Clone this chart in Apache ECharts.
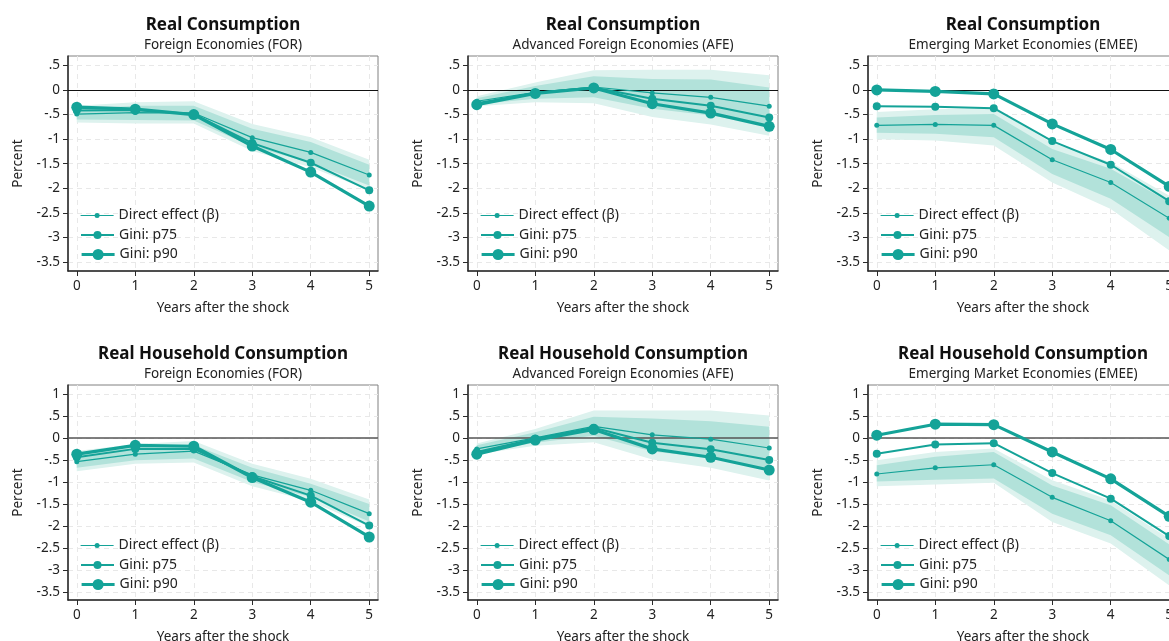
<!DOCTYPE html>
<html><head><meta charset="utf-8">
<script src="https://cdn.jsdelivr.net/npm/echarts@6/dist/echarts.min.js"></script>
<style>html,body{margin:0;padding:0;background:#fff;overflow:hidden}#c{width:1169px;height:641px;}</style>
</head><body><div id="c"></div>
<script>
// ---------- DATA ----------
const years = [0, 1, 2, 3, 4, 5];
const yTicksTop = [-3.5, -3, -2.5, -2, -1.5, -1, -0.5, 0, 0.5];
const yTicksBottom = [-3.5, -3, -2.5, -2, -1.5, -1, -0.5, 0, 0.5, 1];
const seriesNames = ['Direct effect (β)', 'Gini: p75', 'Gini: p90'];
const titles = ['Real Consumption', 'Real Household Consumption'];
const subtitles = ['Foreign Economies (FOR)', 'Advanced Foreign Economies (AFE)', 'Emerging Market Economies (EMEE)'];
const xAxisTitle = 'Years after the shock';
const yAxisTitle = 'Percent';

// Real Consumption – FOR
const rcForDirect = [-0.49, -0.46, -0.47, -0.97, -1.27, -1.73];
const rcForP75    = [-0.42, -0.41, -0.49, -1.08, -1.48, -2.04];
const rcForP90    = [-0.35, -0.39, -0.50, -1.14, -1.67, -2.36];
const rcForHi90   = [-0.32, -0.25, -0.23, -0.69, -0.96, -1.42];
const rcForHi68   = [-0.39, -0.32, -0.32, -0.79, -1.06, -1.52];
const rcForLo68   = [-0.60, -0.61, -0.62, -1.15, -1.48, -1.94];
const rcForLo90   = [-0.66, -0.68, -0.68, -1.24, -1.57, -2.04];
// Real Consumption – AFE
const rcAfeDirect = [-0.23, -0.05, 0.06, -0.06, -0.15, -0.33];
const rcAfeP75    = [-0.27, -0.06, 0.05, -0.18, -0.32, -0.56];
const rcAfeP90    = [-0.30, -0.07, 0.04, -0.28, -0.47, -0.74];
const rcAfeHi90   = [-0.13, 0.15, 0.40, 0.41, 0.41, 0.30];
const rcAfeHi68   = [-0.17, 0.08, 0.28, 0.22, 0.21, 0.05];
const rcAfeLo68   = [-0.29, -0.18, -0.15, -0.38, -0.52, -0.72];
const rcAfeLo90   = [-0.33, -0.25, -0.27, -0.55, -0.70, -0.93];
// Real Consumption – EMEE
const rcEmeDirect = [-0.72, -0.70, -0.72, -1.42, -1.88, -2.61];
const rcEmeP75    = [-0.33, -0.34, -0.37, -1.04, -1.52, -2.26];
const rcEmeP90    = [0.00, -0.03, -0.08, -0.69, -1.21, -1.96];
const rcEmeHi90   = [-0.45, -0.39, -0.37, -1.08, -1.47, -2.15];
const rcEmeHi68   = [-0.56, -0.51, -0.49, -1.20, -1.60, -2.28];
const rcEmeLo68   = [-0.87, -0.89, -0.96, -1.71, -2.21, -2.99];
const rcEmeLo90   = [-1.00, -1.03, -1.13, -1.88, -2.42, -3.26];
// Real Household Consumption – FOR
const rhForDirect = [-0.54, -0.37, -0.30, -0.84, -1.19, -1.72];
const rhForP75    = [-0.44, -0.25, -0.25, -0.87, -1.31, -1.99];
const rhForP90    = [-0.37, -0.17, -0.19, -0.90, -1.46, -2.25];
const rhForHi90   = [-0.30, -0.14, -0.07, -0.59, -0.93, -1.40];
const rhForHi68   = [-0.37, -0.22, -0.16, -0.68, -1.04, -1.50];
const rhForLo68   = [-0.68, -0.51, -0.47, -1.00, -1.34, -1.90];
const rhForLo90   = [-0.76, -0.59, -0.56, -1.10, -1.44, -2.02];
// Real Household Consumption – AFE
const rhAfeDirect = [-0.25, 0.00, 0.26, 0.07, -0.03, -0.23];
const rhAfeP75    = [-0.32, -0.02, 0.23, -0.11, -0.26, -0.50];
const rhAfeP90    = [-0.37, -0.05, 0.19, -0.25, -0.44, -0.73];
const rhAfeHi90   = [-0.13, 0.20, 0.62, 0.62, 0.62, 0.51];
const rhAfeHi68   = [-0.17, 0.13, 0.48, 0.44, 0.38, 0.25];
const rhAfeLo68   = [-0.33, -0.11, 0.05, -0.31, -0.45, -0.71];
const rhAfeLo90   = [-0.37, -0.18, -0.10, -0.49, -0.68, -0.97];
// Real Household Consumption – EMEE
const rhEmeDirect = [-0.82, -0.68, -0.61, -1.35, -1.88, -2.76];
const rhEmeP75    = [-0.36, -0.15, -0.12, -0.80, -1.38, -2.23];
const rhEmeP90    = [0.06, 0.31, 0.30, -0.32, -0.93, -1.78];
const rhEmeHi90   = [-0.51, -0.32, -0.24, -0.96, -1.42, -2.29];
const rhEmeHi68   = [-0.62, -0.43, -0.32, -1.08, -1.53, -2.42];
const rhEmeLo68   = [-0.99, -0.95, -0.92, -1.72, -2.21, -3.12];
const rhEmeLo90   = [-1.10, -1.06, -1.02, -1.91, -2.40, -3.35];

// ---------- BUILD ----------
const panels = [
  {t: titles[0], s: subtitles[0], d: rcForDirect, p75: rcForP75, p90: rcForP90, hi90: rcForHi90, hi68: rcForHi68, lo68: rcForLo68, lo90: rcForLo90},
  {t: titles[0], s: subtitles[1], d: rcAfeDirect, p75: rcAfeP75, p90: rcAfeP90, hi90: rcAfeHi90, hi68: rcAfeHi68, lo68: rcAfeLo68, lo90: rcAfeLo90},
  {t: titles[0], s: subtitles[2], d: rcEmeDirect, p75: rcEmeP75, p90: rcEmeP90, hi90: rcEmeHi90, hi68: rcEmeHi68, lo68: rcEmeLo68, lo90: rcEmeLo90},
  {t: titles[1], s: subtitles[0], d: rhForDirect, p75: rhForP75, p90: rhForP90, hi90: rhForHi90, hi68: rhForHi68, lo68: rhForLo68, lo90: rhForLo90},
  {t: titles[1], s: subtitles[1], d: rhAfeDirect, p75: rhAfeP75, p90: rhAfeP90, hi90: rhAfeHi90, hi68: rhAfeHi68, lo68: rhAfeLo68, lo90: rhAfeLo90},
  {t: titles[1], s: subtitles[2], d: rhEmeDirect, p75: rhEmeP75, p90: rhEmeP90, hi90: rhEmeHi90, hi68: rhEmeHi68, lo68: rhEmeLo68, lo90: rhEmeLo90}
];

const FONT = '"Noto Sans", "DejaVu Sans", sans-serif';
const TEAL = '#14a398';
const BAND_OUT = '#ddf2ee';
const BAND_IN = '#b2e2da';
const colLeft = [68, 468, 868];
const rowTop = [56, 385];
const GW = 310, GH = 215;
const yRange = [[-3.68, 0.69], [-3.68, 1.2]];
const yTickSets = [yTicksTop, yTicksBottom];
const legendRows = [[215.5, 235, 254.5], [545.5, 565, 584.5]];
const lineW = [1.2, 2, 3.2];
const symSize = [5, 8, 11];

function fmtY(v) {
  if (v === 0) return '0';
  const a = Math.abs(v);
  let s = String(a);
  if (a < 1) s = s.replace(/^0/, '');
  return (v < 0 ? '-' : '') + s;
}
const pairs = arr => years.map((x, k) => [x, arr[k]]);

function bandSeries(i, lo, hi, color) {
  return {
    type: 'custom', xAxisIndex: i, yAxisIndex: i, silent: true, animation: false, z: 1,
    data: years.map((x, k) => [x, lo[k], hi[k]]),
    encode: {x: 0, y: [1, 2]},
    renderItem: function (params, api) {
      if (params.dataIndex !== 0) return null;
      const pts = [];
      for (let k = 0; k < years.length; k++) pts.push(api.coord([years[k], hi[k]]));
      for (let k = years.length - 1; k >= 0; k--) pts.push(api.coord([years[k], lo[k]]));
      return {type: 'polygon', shape: {points: pts}, style: {fill: color, stroke: null}, silent: true};
    }
  };
}

const option = {
  animation: false,
  backgroundColor: '#ffffff',
  textStyle: {fontFamily: FONT},
  grid: [], xAxis: [], yAxis: [], series: [], legend: [], graphic: []
};

panels.forEach((p, i) => {
  const col = i % 3, row = Math.floor(i / 3);
  const L = colLeft[col], T = rowTop[row];
  option.grid.push({left: L, top: T, width: GW, height: GH, show: true, borderColor: '#808080', borderWidth: 1,
    backgroundColor: 'transparent', containLabel: false, outerBoundsMode: 'none'});
  option.xAxis.push({
    type: 'value', gridIndex: i, min: -0.15, max: 5.15,
    name: xAxisTitle, nameLocation: 'middle', nameGap: 30,
    nameTextStyle: {fontSize: 13.5, color: '#222', fontFamily: FONT},
    axisLine: {show: true, onZero: false, lineStyle: {color: '#2a2a2a', width: 1.5}},
    axisTick: {show: true, length: 5, inside: false, customValues: years, lineStyle: {color: '#2a2a2a', width: 1}},
    axisLabel: {show: true, customValues: years, margin: 8, fontSize: 13.5, color: '#222', fontFamily: FONT},
    splitLine: {show: true, lineStyle: {color: '#e8e8e8', width: 1, type: [5, 4]}}
  });
  option.yAxis.push({
    type: 'value', gridIndex: i, min: yRange[row][0], max: yRange[row][1],
    name: yAxisTitle, nameLocation: 'middle', nameGap: 43, nameRotate: 90,
    nameTextStyle: {fontSize: 13.5, color: '#222', fontFamily: FONT},
    axisLine: {show: true, onZero: false, lineStyle: {color: '#2a2a2a', width: 1.5}},
    axisTick: {show: true, length: 5, inside: false, customValues: yTickSets[row], lineStyle: {color: '#2a2a2a', width: 1}},
    axisLabel: {show: true, customValues: yTickSets[row], margin: 8, fontSize: 13.5, color: '#222', fontFamily: FONT, formatter: fmtY},
    splitLine: {show: true, lineStyle: {color: '#e8e8e8', width: 1, type: [5, 4]}}
  });
  option.series.push(bandSeries(i, p.lo90, p.hi90, BAND_OUT));
  option.series.push(bandSeries(i, p.lo68, p.hi68, BAND_IN));
  const base = {type: 'line', xAxisIndex: i, yAxisIndex: i, silent: true, animation: false};
  [p.d, p.p75, p.p90].forEach((arr, k) => {
    const s = Object.assign({}, base, {name: seriesNames[k], data: pairs(arr), symbol: 'circle', symbolSize: symSize[k],
      showSymbol: true, clip: false, lineStyle: {color: TEAL, width: lineW[k]}, itemStyle: {color: TEAL, borderWidth: 0}, z: 3 + k});
    if (k === 0) {
      s.markLine = {silent: true, symbol: 'none', z: 2, animation: false, label: {show: false},
        lineStyle: {color: row === 0 ? '#111' : '#555', width: row === 0 ? 1 : 1.5, type: 'solid'}, data: [{yAxis: 0}]};
    }
    option.series.push(s);
    const ih = symSize[k] / 0.8;
    option.legend.push({
      left: L + 12, top: legendRows[row][k] - 8, orient: 'horizontal', padding: 0,
      itemWidth: 33, itemHeight: ih, data: [seriesNames[k]], selectedMode: false,
      textStyle: {fontSize: 14, color: '#222', fontFamily: FONT, lineHeight: 16, height: 16},
      lineStyle: {width: lineW[k], color: TEAL}, itemStyle: {color: TEAL, borderWidth: 0}
    });
  });
  option.graphic.push({type: 'text', x: L + GW / 2, y: T - 31, silent: true,
    style: {text: p.t, font: 'bold 17px ' + FONT, fill: '#111', textAlign: 'center', align: 'center', textVerticalAlign: 'middle', verticalAlign: 'middle'}});
  option.graphic.push({type: 'text', x: L + GW / 2, y: T - 11, silent: true,
    style: {text: p.s, font: '13.5px ' + FONT, fill: '#222', textAlign: 'center', align: 'center', textVerticalAlign: 'middle', verticalAlign: 'middle'}});
});

const chart = echarts.init(document.getElementById('c'), null, {renderer: 'canvas'});
chart.setOption(option);
</script>
</body></html>
